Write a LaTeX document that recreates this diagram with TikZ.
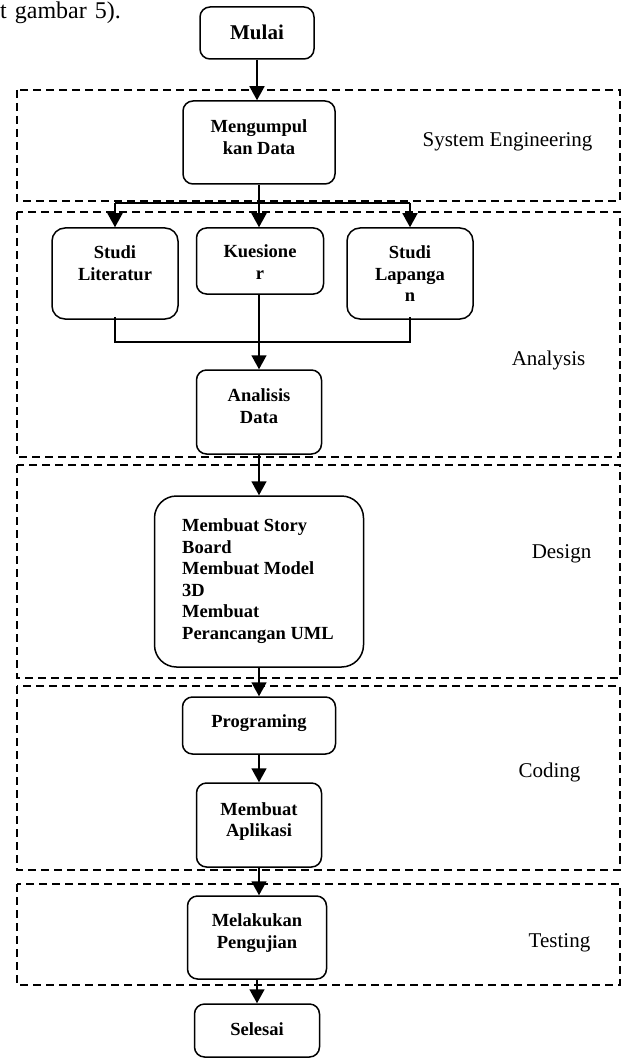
\documentclass[tikz,border=0pt]{standalone}
\usepackage{fontspec}
\setmainfont{Liberation Serif}
\usetikzlibrary{arrows.meta}
\begin{document}
\begin{tikzpicture}[x=1pt,y=-1pt,
  box/.style={draw, line width=1.5pt, rounded corners=10pt, inner sep=0pt},
  btxt/.style={font=\fontsize{18.5}{21.5}\selectfont\bfseries, inner sep=0pt, align=center, anchor=base},
  lbl/.style={font=\fontsize{21}{25}\selectfont, inner sep=0pt, anchor=base},
  region/.style={draw, line width=1.3pt, dash pattern=on 8pt off 5pt},
  conn/.style={line width=1.6pt},
  arr/.style={line width=1.6pt, -{Triangle[width=15pt,length=14pt]}}]
\useasboundingbox (0,0) rectangle (626,1059);

% regions
\draw[region] (17,90) rectangle (620,201);
\draw[region] (17,212) rectangle (620,457);
\draw[region] (17,465) rectangle (620,678);
\draw[region] (17,686) rectangle (620,870);
\draw[region] (17,884) rectangle (620,985);

% top text
\node[font=\fontsize{24}{28}\selectfont, inner sep=0pt, anchor=base west] (toptext) at (0,19) {t\hspace{8pt}gambar\hspace{8pt}5).};

% boxes (multi-line text nodes: base = baseline of last line)
\node[box, minimum width=114pt, minimum height=52pt] (mulai) at (257,33) {};
\node[btxt, font=\fontsize{21}{24}\selectfont\bfseries] (tmulai) at (257,40) {Mulai};

\node[box, minimum width=152pt, minimum height=83pt] (meng) at (259,142.5) {};
\node[btxt] (tmeng) at (259,154.2) {Mengumpul\\kan Data};

\node[box, minimum width=126pt, minimum height=91pt, rounded corners=13pt] (lit) at (115,273.5) {};
\node[btxt] (tlit) at (115,280) {Studi\\Literatur};

\node[box, minimum width=127pt, minimum height=66pt] (kues) at (260,261) {};
\node[btxt] (tkues) at (260,279) {Kuesione\\r};

\node[box, minimum width=126pt, minimum height=91pt, rounded corners=13pt] (lap) at (410,273.5) {};
\node[btxt] (tlap) at (410,301.5) {Studi\\Lapanga\\n};

\node[box, minimum width=125pt, minimum height=84pt] (ana) at (259,412) {};
\node[btxt] (tana) at (259,423.2) {Analisis\\Data};

\node[box, minimum width=209pt, minimum height=171pt, rounded corners=22pt] (design) at (259,581.5) {};
\node[btxt, align=left, anchor=base west] (tdesign) at (182,639.2) {Membuat Story\\Board\\Membuat Model\\3D\\Membuat\\Perancangan UML};

\node[box, minimum width=153pt, minimum height=57pt] (prog) at (259,725.5) {};
\node[btxt] (tprog) at (259,727) {Programing};

\node[box, minimum width=125pt, minimum height=84pt] (apl) at (259,825) {};
\node[btxt] (tapl) at (259,836.5) {Membuat\\Aplikasi};

\node[box, minimum width=139pt, minimum height=83pt] (mel) at (257,937.5) {};
\node[btxt] (tmel) at (257,948.2) {Melakukan\\Pengujian};

\node[box, minimum width=125pt, minimum height=53pt] (sel) at (257,1030.5) {};
\node[btxt] (tsel) at (257,1035) {Selesai};

% labels
\node[lbl] (lse) at (507.5,146.7) {System Engineering};
\node[lbl] (lan) at (548.5,365.7) {Analysis};
\node[lbl] (lde) at (561.5,558) {Design};
\node[lbl] (lco) at (549.5,777) {Coding};
\node[lbl] (lte) at (559.5,947) {Testing};

% connectors
\draw[arr] (mulai.south) -- (mulai.south |- meng.north);
\coordinate (br) at (259,203);
\draw[conn] (meng.south) -- (br);
\draw[conn] (br -| lit.north) -- (br -| lap.north);
\draw[arr] (br -| lit.north) -- (lit.north);
\draw[arr] (br) -- (br |- kues.north);
\draw[arr] (br -| lap.north) -- (lap.north);

\coordinate (jn) at (259,342);
\draw[conn] ([yshift=3pt]lit.south) -- (jn -| lit.south) -- (jn -| lap.south) -- ([yshift=3pt]lap.south);
\draw[arr] (kues.south -| ana.north) -- (ana.north);

\draw[arr] (ana.south) -- (ana.south |- design.north);
\draw[arr] (design.south) -- (design.south |- prog.north);
\draw[arr] (prog.south) -- (prog.south |- apl.north);
\draw[arr] (apl.south) -- (apl.south |- mel.north);
\draw[arr] (mel.south) -- (mel.south |- sel.north);
\end{tikzpicture}
\end{document}
